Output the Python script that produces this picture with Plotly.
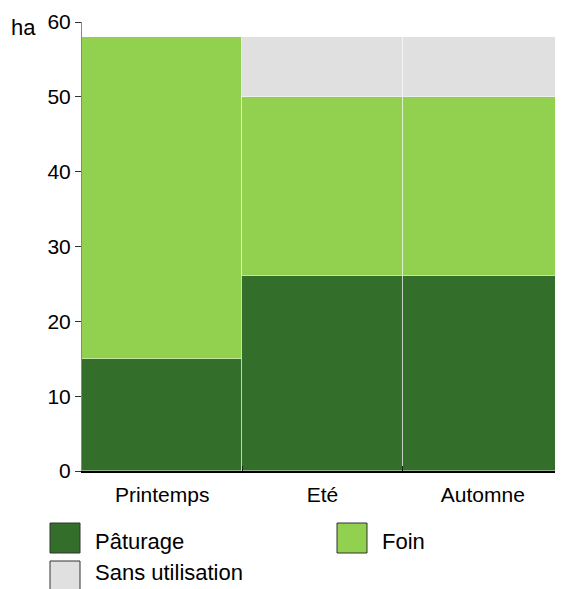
import plotly.graph_objects as go

categories = ["Printemps", "Eté", "Automne"]
paturage = [15, 26, 26]
foin = [43, 24, 24]
sans_utilisation = [0, 8, 8]
series_names = ["Pâturage", "Foin", "Sans utilisation"]
colors = ["#336E2B", "#92D050", "#E0E0E0"]

FONT = "Liberation Sans, Arial, sans-serif"

fig = go.Figure()
for name, vals, col in zip(series_names, [paturage, foin, sans_utilisation], colors):
    fig.add_trace(go.Bar(
        x=categories, y=vals, name=name,
        marker=dict(color=col, line=dict(color="rgba(255,255,255,0.45)", width=1)),
        showlegend=False, hoverinfo="x+y+name",
    ))

# page has an 8px body margin: figure occupies page x 8..563, y 8..589
fig.update_layout(
    width=555, height=581,
    margin=dict(l=74, r=0, t=14, b=118),
    barmode="stack", bargap=0,
    plot_bgcolor="white", paper_bgcolor="white",
    font=dict(family=FONT, size=21, color="black"),
    xaxis=dict(
        showline=True, linecolor="black", linewidth=1.5,
        ticks="inside", ticklen=5, tickcolor="#222", tickson="boundaries",
        showgrid=False, tickfont=dict(size=21), ticklabelstandoff=4,
    ),
    yaxis=dict(
        range=[0, 60], tickvals=[0, 10, 20, 30, 40, 50, 60],
        showline=True, linecolor="#888", linewidth=1,
        ticks="outside", ticklen=6, tickcolor="#333",
        showgrid=False, zeroline=False, tickfont=dict(size=21),
    ),
)

# plot area in page pixels: x 82..563, y 22..471
plot_w, plot_h = 481, 449
def px_to_paper(px, py):
    return (px - 82) / plot_w, (471 - py) / plot_h

hx, hy = px_to_paper(9, 28)
fig.add_annotation(text="ha", xref="paper", yref="paper", x=hx, y=hy,
                   xanchor="left", yanchor="middle", showarrow=False,
                   font=dict(size=22, family=FONT))

# legend drawn manually (large square keys)
legend_items = [(series_names[0], colors[0], 50, 523, 541),
                (series_names[1], colors[1], 337, 523, 541),
                (series_names[2], colors[2], 50, 561, 572)]
for name, col, lx, ly, tyc in legend_items:
    x0, y0 = px_to_paper(lx, ly + 30)
    x1, y1 = px_to_paper(lx + 30, ly)
    fig.add_shape(type="rect", xref="paper", yref="paper", x0=x0, x1=x1, y0=y0, y1=y1,
                  fillcolor=col, line=dict(color="#333", width=1))
    tx, ty = px_to_paper(lx + 43, tyc)
    fig.add_annotation(text=name, xref="paper", yref="paper", x=tx, y=ty,
                       xanchor="left", yanchor="middle", showarrow=False,
                       font=dict(size=22, family=FONT))

fig.write_html("out.html")
